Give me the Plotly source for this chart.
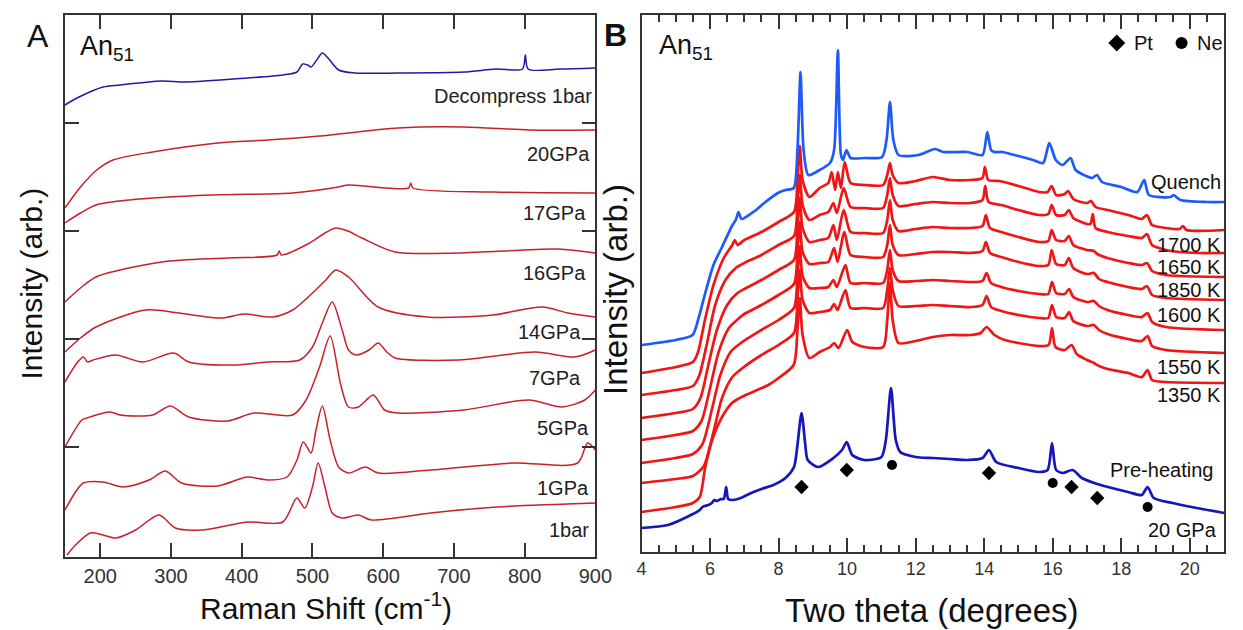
import plotly.graph_objects as go

# ---------------- Panel A : Raman spectra (Raman shift, intensity arb.) ----------------
a_dec_x = [150,170,204,228,287,320,408,458,478,486,493,498,506,514,522,537,560,621,714,760,797,801,805,850,900]
a_dec_y = [452,460,470,472,476,475,479,482,485,493,492,490,497,504,499,487,484,484,485,488,488,502,488,488,489]
a_20_x = [150,172,195,218,274,366,436,510,621,714,806,900]
a_20_y = [349,370,387,397,405,414,417,421,429,430,427,427]
a_17_x = [150,172,194,241,357,472,537,551,636,639,642,755,900]
a_17_y = [334,344,352,357,362,364,370,372,369,374,369,365,364]
a_16_x = [150,172,194,287,380,450,453,456,496,520,533,550,570,617,708,847,900]
a_16_y = [255,269,280,295,299,302,306,302,314,325,329,326,319,305,304,308,304]
a_14_x = [150,172,194,264,311,371,403,444,472,500,519,533,551,593,662,755,825,861,900]
a_14_y = [205,219,230,247,244,239,243,240,247,264,277,287,280,250,240,242,250,244,240]
a_7_x = [150,167,176,182,190,222,260,304,325,389,436,482,500,514,528,542,551,562,580,593,605,617,708,815,871,900]
a_7_y = [175,194,200,195,197,202,195,204,195,192,195,197,210,234,255,227,207,202,207,214,205,199,197,205,200,207]
a_5_x = [150,174,181,214,228,274,299,325,380,417,472,491,510,525,540,551,565,586,602,621,714,806,853,885,900]
a_5_y = [110,137,139,145,142,142,151,140,136,144,142,157,190,221,172,150,150,162,147,144,147,157,150,157,167]
a_1g_x = [150,165,176,204,232,269,292,315,366,408,436,464,478,487,498,505,514,525,537,551,575,593,667,783,875,889,900]
a_1g_y = [47,65,74,75,70,77,86,74,71,80,77,80,97,115,104,127,151,117,90,84,90,84,87,94,94,114,107]
a_1b_x = [153,165,186,204,222,250,283,306,343,408,458,478,489,500,508,518,528,542,565,583,667,760,900]
a_1b_y = [2,12,24,22,19,27,42,29,27,35,35,59,49,70,94,69,44,39,42,37,44,50,54]

a_labels = ["Decompress 1bar", "20GPa", "17GPa", "16GPa", "14GPa", "7GPa", "5GPa", "1GPa", "1bar"]
a_label_y = [461, 403, 344, 284, 225, 179, 129, 69, 27]
a_label_x = [898, 895, 890, 890, 883, 883, 894, 894, 894]
a_xticks = [200, 300, 400, 500, 600, 700, 800, 900]
a_yticks = [110, 218, 326, 434]

# ---------------- Panel B : XRD patterns (two theta, intensity arb.) ----------------
b_q_x = [4.0,5.0,5.49,5.65,5.86,6.1,6.35,6.64,6.75,6.83,6.92,7.3,7.58,7.98,8.2,8.44,8.55,8.64,8.73,8.87,9.2,9.5,9.62,9.73,9.82,9.88,9.98,10.1,10.5,11.02,11.15,11.25,11.35,11.5,12.08,12.57,12.8,13.51,13.95,14.09,14.2,14.29,14.52,15.0,15.43,15.72,15.9,16.09,16.29,16.52,16.67,17.15,17.29,17.44,18.0,18.47,18.67,18.81,19.44,19.53,19.73,20.5,21.0]
b_q_y = [207,212,217,232,259,287,305,326,332,340,333,341,349,359,362,364,402,480,402,377,382,389,402,502,397,392,402,394,394,395,412,450,412,397,397,403,400,400,397,420,402,400,400,396,392,389,409,392,387,394,382,374,377,370,365,360,372,357,355,357,352,350,350]

b_r1_x = [4.0,5.0,5.5,5.65,5.85,6.1,6.4,6.65,6.72,6.8,7.0,7.5,8.0,8.45,8.55,8.62,8.7,8.9,9.2,9.45,9.55,9.65,9.73,9.82,9.93,10.1,10.5,11.05,11.17,11.25,11.33,11.5,12.0,12.5,13.0,13.6,13.95,14.02,14.12,14.45,15.0,15.6,15.85,15.97,16.1,16.35,16.45,16.6,17.0,17.12,17.25,17.6,18.2,18.6,18.75,18.9,19.3,19.7,19.8,19.9,21.0]
b_r1_y = [179,185,190,200,232,267,294,307,312,307,312,320,330,340,372,406,372,355,364,369,380,362,380,364,390,369,367,367,377,389,377,369,371,375,372,372,374,385,372,371,366,360,360,366,357,358,361,353,349,351,345,342,337,333,337,327,324,323,326,322,322]

b_r2_x = [4.0,5.0,5.5,5.68,5.9,6.15,6.45,6.75,7.0,7.5,8.0,8.45,8.55,8.62,8.7,8.9,9.2,9.45,9.6,9.7,9.9,10.1,10.5,11.05,11.17,11.25,11.33,11.5,12.0,12.5,13.0,13.6,13.95,14.03,14.13,14.5,15.0,15.6,15.87,15.97,16.1,16.35,16.47,16.6,17.0,17.1,17.17,17.25,17.6,18.2,18.6,18.75,18.9,19.3,19.7,20.2,21.0]
b_r2_y = [157,162,166,176,207,247,272,284,289,297,307,316,347,377,347,332,337,340,349,339,364,345,344,344,357,374,357,346,348,350,349,349,352,366,350,347,342,337,338,347,337,337,342,334,328,328,338,324,320,316,314,318,307,302,300,299,299]

b_r3_x = [4.0,5.0,5.5,5.72,5.95,6.2,6.5,6.8,7.0,7.5,8.0,8.45,8.55,8.62,8.7,8.9,9.2,9.45,9.6,9.7,9.9,10.1,10.5,11.05,11.17,11.25,11.33,11.5,12.0,12.5,13.0,13.6,13.95,14.05,14.17,14.5,15.0,15.6,15.87,15.97,16.1,16.35,16.47,16.6,17.0,17.2,17.3,17.6,18.2,18.6,18.75,18.9,19.3,19.7,21.0]
b_r3_y = [134,139,143,154,187,222,247,259,263,272,282,292,324,354,324,310,312,314,327,312,342,320,319,319,332,352,332,321,323,325,324,324,326,337,324,320,315,310,311,322,312,311,316,307,302,301,298,294,289,287,289,281,277,276,275]

b_r4_x = [4.0,5.0,5.5,5.75,6.0,6.25,6.55,6.85,7.0,7.5,8.0,8.45,8.55,8.62,8.7,8.9,9.2,9.45,9.62,9.72,9.92,10.1,10.5,11.05,11.17,11.25,11.33,11.5,12.0,12.5,13.0,13.6,13.95,14.05,14.17,14.5,15.0,15.6,15.87,15.97,16.1,16.35,16.47,16.6,17.0,17.2,17.35,17.6,18.2,18.6,18.75,18.9,19.3,21.0]
b_r4_y = [112,117,121,131,164,200,224,234,238,247,257,268,300,330,300,288,289,290,304,290,320,297,295,295,307,327,307,297,298,300,300,299,301,310,299,295,290,286,287,302,288,287,294,284,278,279,273,270,265,263,266,257,254,252]

b_r5_x = [4.0,5.0,5.5,5.78,6.05,6.3,6.6,6.9,7.5,8.0,8.45,8.55,8.62,8.7,8.9,9.2,9.45,9.6,9.7,9.95,10.1,10.5,11.05,11.17,11.25,11.33,11.5,12.0,12.5,13.0,13.6,13.95,14.07,14.2,14.5,15.0,15.6,15.87,15.98,16.1,16.35,16.48,16.6,17.0,17.2,17.35,17.6,18.2,18.6,18.77,18.9,19.3,21.0]
b_r5_y = [89,94,98,108,142,177,200,209,222,232,244,276,306,276,264,264,265,272,265,287,269,269,269,282,302,282,271,271,272,271,270,271,279,269,265,261,258,258,270,259,258,263,255,250,251,246,242,237,235,239,230,225,222]

b_r6_x = [4.0,5.0,5.5,5.82,6.1,6.35,6.65,6.95,7.5,8.0,8.45,8.55,8.62,8.7,8.9,9.2,9.5,9.62,9.72,9.95,10.1,10.5,11.05,11.17,11.25,11.33,11.5,12.0,12.5,13.0,13.6,13.95,14.07,14.2,14.5,15.0,15.6,15.87,15.98,16.1,16.35,16.48,16.6,17.0,17.2,17.35,17.6,18.2,18.6,18.77,18.9,19.3,21.0]
b_r6_y = [69,73,76,86,120,154,175,184,197,207,219,252,282,252,239,240,242,248,242,262,244,244,244,262,284,262,246,246,247,246,245,247,256,245,241,237,234,234,247,235,234,240,231,226,227,222,218,213,211,216,206,202,199]

b_r7_x = [4.0,5.0,5.5,5.7,5.86,6.06,6.35,6.64,6.92,7.7,8.0,8.44,8.55,8.62,8.7,8.9,9.2,9.5,9.62,9.75,10.0,10.15,10.5,11.05,11.17,11.25,11.33,11.5,12.0,12.5,13.0,13.6,13.9,14.07,14.3,14.6,15.0,15.6,15.88,15.98,16.08,16.35,16.55,16.7,17.0,17.2,17.35,17.6,18.2,18.6,18.77,18.9,19.3,21.0]
b_r7_y = [40,45,49,55,85,112,135,149,155,167,174,187,222,254,217,194,200,205,209,204,222,210,205,205,232,269,232,209,211,215,217,217,219,225,217,212,209,206,207,224,205,202,207,198,192,189,186,183,179,175,182,172,170,169]

b_pre_x = [4.0,4.77,5.5,5.7,5.78,5.85,5.95,6.05,6.12,6.2,6.32,6.4,6.47,6.53,6.65,6.9,7.2,7.5,7.85,8.2,8.45,8.55,8.67,8.78,8.85,9.15,9.6,9.85,9.99,10.15,10.5,11.0,11.13,11.28,11.42,11.55,12.0,12.5,13.0,13.5,13.95,14.14,14.35,15.0,15.6,15.85,15.98,16.1,16.3,16.58,16.85,17.3,17.5,18.2,18.6,18.77,18.95,19.5,20.2,21.0]
b_pre_y = [24,27,38,42,45,46,47,49,52,51,53,53,65,53,52,54,59,63,67,74,85,107,139,107,92,85,94,102,110,97,92,95,112,164,112,100,95,94,93,92,94,102,90,84,80,82,109,82,79,82,74,68,66,60,57,65,54,49,44,39]

pt_x = [8.67, 9.99, 14.14, 16.55, 17.3]
pt_y = [65, 82, 79, 65, 54]
ne_x = [11.31, 16.0, 18.77]
ne_y = [87, 69, 45]

b_labels = ["Quench", "1700 K", "1650 K", "1850 K", "1600 K", "1550 K", "1350 K", "Pre-heating", "20 GPa"]
b_label_y = [370, 307, 285, 262, 237, 185, 157, 82, 22]
b_label_x = [20.97, 20.97, 20.97, 20.97, 20.97, 20.97, 20.97, 20.75, 20.85]

FONT = "Liberation Sans, Arial, Helvetica, sans-serif"
A_RED = "rgb(200,32,42)"
A_BLUE = "rgb(28,28,165)"
B_RED = "rgb(240,22,22)"
B_QBLUE = "rgb(30,90,250)"
B_PBLUE = "rgb(22,22,185)"

fig = go.Figure()

a_series = [(a_dec_x, a_dec_y, A_BLUE), (a_20_x, a_20_y, A_RED), (a_17_x, a_17_y, A_RED),
            (a_16_x, a_16_y, A_RED), (a_14_x, a_14_y, A_RED), (a_7_x, a_7_y, A_RED),
            (a_5_x, a_5_y, A_RED), (a_1g_x, a_1g_y, A_RED), (a_1b_x, a_1b_y, A_RED)]
for xs, ys, col in a_series:
    fig.add_trace(go.Scatter(x=xs, y=ys, mode="lines", xaxis="x", yaxis="y",
                             line=dict(color=col, width=1.5, shape="spline", smoothing=0.8),
                             hoverinfo="skip"))

b_series = [(b_r7_x, b_r7_y, B_RED), (b_r6_x, b_r6_y, B_RED), (b_r5_x, b_r5_y, B_RED),
            (b_r4_x, b_r4_y, B_RED), (b_r3_x, b_r3_y, B_RED), (b_r2_x, b_r2_y, B_RED),
            (b_r1_x, b_r1_y, B_RED), (b_q_x, b_q_y, B_QBLUE), (b_pre_x, b_pre_y, B_PBLUE)]
for xs, ys, col in b_series:
    fig.add_trace(go.Scatter(x=xs, y=ys, mode="lines", xaxis="x2", yaxis="y2",
                             line=dict(color=col, width=2.7, shape="spline", smoothing=0.7),
                             hoverinfo="skip"))

fig.add_trace(go.Scatter(x=pt_x, y=pt_y, mode="markers", xaxis="x2", yaxis="y2",
                         marker=dict(symbol="diamond", size=11, color="black"), hoverinfo="skip"))
fig.add_trace(go.Scatter(x=ne_x, y=ne_y, mode="markers", xaxis="x2", yaxis="y2",
                         marker=dict(symbol="circle", size=10, color="black"), hoverinfo="skip"))
# legend symbols (Pt / Ne)
fig.add_trace(go.Scatter(x=[17.87], y=[509], mode="markers", xaxis="x2", yaxis="y2",
                         marker=dict(symbol="diamond", size=13, color="black"), hoverinfo="skip"))
fig.add_trace(go.Scatter(x=[19.76], y=[509], mode="markers", xaxis="x2", yaxis="y2",
                         marker=dict(symbol="circle", size=12, color="black"), hoverinfo="skip"))

W, H = 1243, 630
def px(v):
    return v / W
def py(v):
    return 1 - v / H

axis_common = dict(showline=True, linecolor="#333", linewidth=1.5, showgrid=False, zeroline=False,
                   mirror="ticks", ticks="inside", tickcolor="#333", tickwidth=1.5)

fig.update_layout(
    width=W, height=H, margin=dict(l=0, r=0, t=0, b=0),
    paper_bgcolor="white", plot_bgcolor="white", showlegend=False,
    font=dict(family=FONT, color="#222"),
    xaxis=dict(domain=[px(61), px(601)], range=[150, 900], tickvals=a_xticks, ticklen=14,
               tickfont=dict(size=20, color="#333"), anchor="y", **axis_common),
    yaxis=dict(domain=[py(557), py(15)], range=[0, 542], tickvals=a_yticks, ticklen=14,
               showticklabels=False, anchor="x", **axis_common),
    xaxis2=dict(domain=[px(648), px(1241)], range=[4, 21], tick0=4, dtick=2, ticklen=14,
                minor=dict(dtick=0.5, ticklen=7, ticks="inside", tickcolor="#333", tickwidth=1.5),
                tickfont=dict(size=18, color="#333"), anchor="y2", **axis_common),
    yaxis2=dict(domain=[py(552), py(15)], range=[0, 537], showticklabels=False, anchor="x2",
                showline=True, linecolor="#333", linewidth=1.5, mirror=True, ticks="",
                showgrid=False, zeroline=False),
)

ann = []
for t, x, y in zip(a_labels, a_label_x, a_label_y):
    ann.append(dict(text=t, x=x, y=y, xref="x", yref="y", xanchor="right", yanchor="middle",
                    showarrow=False, font=dict(size=20, color="#222", family=FONT)))
for t, x, y in zip(b_labels, b_label_x, b_label_y):
    ann.append(dict(text=t, x=x, y=y, xref="x2", yref="y2", xanchor="right", yanchor="middle",
                    showarrow=False, font=dict(size=20, color="#111", family=FONT)))
ann.append(dict(text="Pt", x=18.3, y=509, xref="x2", yref="y2", xanchor="left", yanchor="middle",
                showarrow=False, font=dict(size=20, color="#111", family=FONT)))
ann.append(dict(text="Ne", x=20.15, y=509, xref="x2", yref="y2", xanchor="left", yanchor="middle",
                showarrow=False, font=dict(size=20, color="#111", family=FONT)))
# titles and panel marks
ann.append(dict(text="Raman Shift (cm<sup>-1</sup>)", x=px(327), y=py(606), xref="paper", yref="paper",
                xanchor="center", yanchor="middle", showarrow=False, font=dict(size=30, color="#111", family=FONT)))
ann.append(dict(text="Two theta (degrees)", x=px(944), y=py(610), xref="paper", yref="paper",
                xanchor="center", yanchor="middle", showarrow=False, font=dict(size=33, color="#111", family=FONT)))
ann.append(dict(text="Intensity (arb.)", x=px(27), y=py(284), xref="paper", yref="paper", textangle=-90,
                xanchor="center", yanchor="middle", showarrow=False, font=dict(size=30, color="#111", family=FONT)))
ann.append(dict(text="Intensity (arb.)", x=px(622), y=py(289), xref="paper", yref="paper", textangle=-90,
                xanchor="center", yanchor="middle", showarrow=False, font=dict(size=33, color="#111", family=FONT)))
ann.append(dict(text="A", x=px(34), y=py(36), xref="paper", yref="paper", xanchor="center", yanchor="middle",
                showarrow=False, font=dict(size=32, color="#111", family=FONT)))
ann.append(dict(text="<b>B</b>", x=px(622), y=py(35), xref="paper", yref="paper", xanchor="center", yanchor="middle",
                showarrow=False, font=dict(size=32, color="#111", family=FONT)))
ann.append(dict(text="An<sub>51</sub>", x=px(74), y=py(48), xref="paper", yref="paper", xanchor="left", yanchor="middle",
                showarrow=False, font=dict(size=27, color="#111", family=FONT)))
ann.append(dict(text="An<sub>51</sub>", x=px(664), y=py(47), xref="paper", yref="paper", xanchor="left", yanchor="middle",
                showarrow=False, font=dict(size=27, color="#111", family=FONT)))
fig.update_layout(annotations=ann)

# remove the browser's default 8px body margin so the 1243x630 figure fills the window exactly
fig.write_html("out.html", config={"displayModeBar": False},
               post_script="document.body.style.margin='0px';document.body.style.overflow='hidden';")
